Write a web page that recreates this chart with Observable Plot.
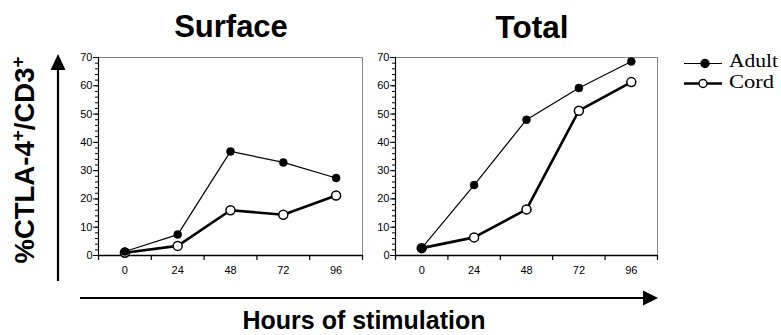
<!DOCTYPE html>
<html>
<head>
<meta charset="utf-8">
<script src="https://cdn.jsdelivr.net/npm/d3@7"></script>
<script src="https://cdn.jsdelivr.net/npm/@observablehq/plot@0.6"></script>
<style>
  html, body { margin: 0; padding: 0; background: #fff; }
  #wrap { position: relative; width: 781px; height: 335px; overflow: hidden; background: #fff; }
  .abs { position: absolute; }
</style>
</head>
<body>
<div id="wrap"></div>
<script>
// ---- data ----
const hours = [0, 24, 48, 72, 96];
const hourLabels = ["0", "24", "48", "72", "96"];
const surfaceAdult = [1.4, 7.4, 36.8, 32.9, 27.4];
const surfaceCord = [1.0, 3.4, 16.0, 14.4, 21.2];
const totalAdult = [2.6, 24.9, 48.0, 59.2, 68.6];
const totalCord = [2.6, 6.4, 16.3, 51.2, 61.3];
const panelTitles = ["Surface", "Total"];
const seriesNames = ["Adult", "Cord"];
const yMajor = [0, 10, 20, 30, 40, 50, 60, 70];
const yMinor = d3.range(0, 71, 2);
const xBounds = [-12, 12, 36, 60, 84, 108];

function rows(a, c) {
  return hours.flatMap((h, i) => [
    {hour: h, value: a[i], series: seriesNames[0]},
    {hour: h, value: c[i], series: seriesNames[1]}
  ]);
}

function panel(data, width) {
  const adult = data.filter(d => d.series === "Adult");
  const cord = data.filter(d => d.series === "Cord");
  return Plot.plot({
    width, height: 227,
    marginLeft: 30, marginRight: 2, marginTop: 4, marginBottom: 25,
    x: {domain: [-12, 108], axis: null},
    y: {domain: [0, 70], axis: null},
    style: {fontFamily: "'Liberation Sans', Arial, sans-serif", fontSize: "11px", background: "transparent", overflow: "visible", color: "#000"},
    marks: [
      Plot.frame({stroke: "#888", strokeWidth: 1}),
      Plot.axisY(yMinor, {tickSize: 3, tickFormat: () => "", label: null, strokeWidth: 1}),
      Plot.axisY(yMajor, {tickSize: 5, tickPadding: 1, label: null, strokeWidth: 1}),
      Plot.axisX(xBounds, {tickSize: 5, tickFormat: () => "", label: null, strokeWidth: 1.2}),
      Plot.axisX(hours, {tickSize: 0, tickPadding: 11, tickFormat: (d) => hourLabels[hours.indexOf(d)], label: null}),
      Plot.ruleX([-12], {stroke: "#000", strokeWidth: 1.2}),
      Plot.ruleY([0], {stroke: "#000", strokeWidth: 1.4}),
      Plot.line(adult, {x: "hour", y: "value", stroke: "#000", strokeWidth: 1.2}),
      Plot.line(cord, {x: "hour", y: "value", stroke: "#000", strokeWidth: 2.6}),
      Plot.dot(cord, {x: "hour", y: "value", r: 4.5, fill: "#fff", stroke: "#000", strokeWidth: 1.5}),
      Plot.dot(adult, {x: "hour", y: "value", r: 4, fill: "#000", stroke: "#000", strokeWidth: 0.5})
    ]
  });
}

const wrap = document.getElementById("wrap");

const p1 = panel(rows(surfaceAdult, surfaceCord), 296);
p1.classList.add("abs"); p1.style.left = "68px"; p1.style.top = "53px";
wrap.appendChild(p1);

const p2 = panel(rows(totalAdult, totalCord), 294);
p2.classList.add("abs"); p2.style.left = "365px"; p2.style.top = "53px";
wrap.appendChild(p2);

// overlay: titles, arrows, y label, legend
const svg = d3.select(wrap).append("svg")
  .attr("class", "abs")
  .attr("width", 781).attr("height", 335)
  .style("left", "0px").style("top", "0px")
  .style("pointer-events", "none");

function addTitle(text, cx, baseline, size) {
  svg.append("text")
    .attr("x", cx).attr("y", baseline)
    .attr("text-anchor", "middle")
    .attr("font-family", "'Liberation Sans', Arial, sans-serif")
    .attr("font-weight", "bold")
    .attr("font-size", size)
    .attr("fill", "#000")
    .text(text);
}
addTitle(panelTitles[0], 231, 37, 31);
addTitle(panelTitles[1], 532, 38, 31.5);
addTitle("Hours of stimulation", 364, 329, 25);

// y arrow
svg.append("line").attr("x1", 58).attr("x2", 58).attr("y1", 281).attr("y2", 66).attr("stroke", "#000").attr("stroke-width", 2.2);
svg.append("path").attr("d", "M50.5,70 L65.5,70 L58,54 Z").attr("fill", "#000");
// x arrow
svg.append("line").attr("x1", 80).attr("x2", 646).attr("y1", 298).attr("y2", 298).attr("stroke", "#000").attr("stroke-width", 2.2);
svg.append("path").attr("d", "M643,290.5 L643,305.5 L658,298 Z").attr("fill", "#000");

// y label
const yl = svg.append("text")
  .attr("transform", "translate(34,160) rotate(-90)")
  .attr("text-anchor", "middle")
  .attr("font-family", "'Liberation Sans', Arial, sans-serif")
  .attr("font-weight", "bold")
  .attr("font-size", 27.5)
  .attr("fill", "#000");
yl.append("tspan").text("%CTLA-4");
yl.append("tspan").attr("dy", -10).attr("font-size", 19).text("+");
yl.append("tspan").attr("dy", 10).text("/CD3");
yl.append("tspan").attr("dy", -10).attr("font-size", 19).text("+");

// legend
const legend = [
  {name: seriesNames[0], y: 63.5, sw: 1.2, fill: "#000", cx: 705, base: 66.5, len: 49},
  {name: seriesNames[1], y: 83.5, sw: 2.4, fill: "#fff", cx: 703, base: 88, len: 45}
];
legend.forEach(l => {
  svg.append("line").attr("x1", 684).attr("x2", 722).attr("y1", l.y).attr("y2", l.y).attr("stroke", "#000").attr("stroke-width", l.sw);
  svg.append("circle").attr("cx", l.cx).attr("cy", l.y).attr("r", 4).attr("fill", l.fill).attr("stroke", "#000").attr("stroke-width", 1.4);
  svg.append("text").attr("x", 729).attr("y", l.base)
    .attr("font-family", "'Liberation Serif', 'Times New Roman', serif")
    .attr("font-size", 19)
    .attr("textLength", l.len).attr("lengthAdjust", "spacingAndGlyphs")
    .attr("fill", "#000").text(l.name);
});
</script>
</body>
</html>
